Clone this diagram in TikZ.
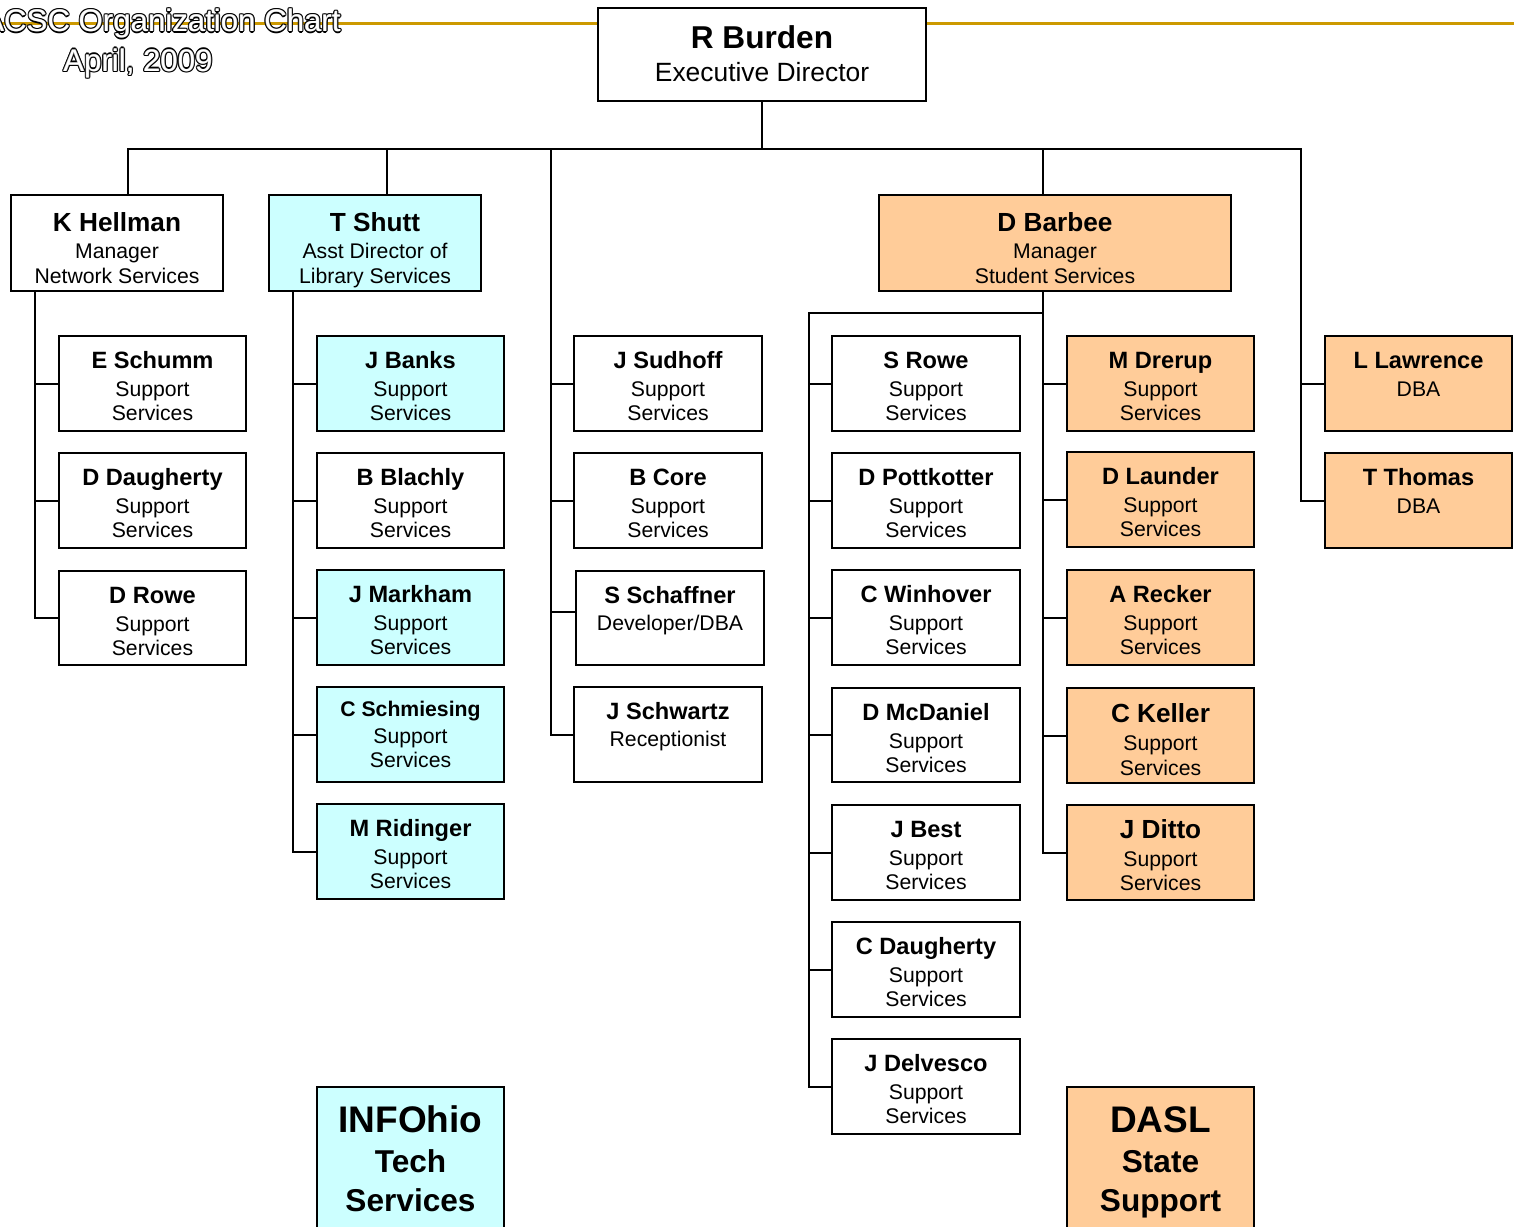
\documentclass[tikz,border=0pt]{standalone}
\usepackage{fontspec}
\setmainfont{Liberation Sans}
\usetikzlibrary{fit,calc}
\definecolor{cy}{HTML}{CCFFFF}
\definecolor{og}{HTML}{FFCC99}
\definecolor{gold}{HTML}{CC9900}
\tikzset{
 box/.style={draw=black,line width=1pt,inner sep=0pt,fill=white},
 cyanbox/.style={box,fill=cy},
 orangebox/.style={box,fill=og},
 wire/.style={line width=1pt,line cap=rect},
 goldline/.style={draw=gold,line width=1.5pt},
 txt/.style={anchor=base,inner sep=0pt},
 nm/.style={txt,font=\fontsize{11.8}{14}\selectfont\bfseries},
 nmbig/.style={txt,font=\fontsize{13.1}{15}\selectfont\bfseries},
 nmsmall/.style={txt,font=\fontsize{10.6}{13}\selectfont\bfseries},
 sub/.style={txt,font=\fontsize{10.6}{13}\selectfont},
 huge1/.style={txt,font=\fontsize{18.5}{22}\selectfont\bfseries},
 huge2/.style={txt,font=\fontsize{15.8}{19}\selectfont\bfseries},
 ttl/.style={txt,font=\fontsize{15.6}{18}\selectfont},
}
\newcommand\obox[6]{\node[#6,fit={(#2,#3)(#4,#5)}] (#1) {};}
\newcommand\tline[5]{\node[#4] (#1-#2) at ($(#1.north)+(0,#3)$) {#5};}
\newcommand\std[9]{\obox{#1}{#2}{#3}{#4}{#5}{#6}\tline{#1}{a}{33}{nm}{#7}\tline{#1}{b}{61}{sub}{#8}\tline{#1}{c}{85}{sub}{#9}}
\newcommand\outl[1]{%
 \makebox[0pt][l]{\kern-.7pt\color{black}#1}%
 \makebox[0pt][l]{\kern.7pt\color{black}#1}%
 \makebox[0pt][l]{\raisebox{.7pt}{\color{black}#1}}%
 \makebox[0pt][l]{\raisebox{-.7pt}{\color{black}#1}}%
 \makebox[0pt][l]{\kern-.5pt\raisebox{.5pt}{\color{black}#1}}%
 \makebox[0pt][l]{\kern.5pt\raisebox{.5pt}{\color{black}#1}}%
 \makebox[0pt][l]{\kern-.5pt\raisebox{-.5pt}{\color{black}#1}}%
 \makebox[0pt][l]{\kern.5pt\raisebox{-.5pt}{\color{black}#1}}%
 \makebox[0pt][l]{\kern-.25pt\color{gray}#1}%
 \makebox[0pt][l]{\kern.25pt\color{gray}#1}%
 {\color{white}#1}}
\begin{document}
\begin{tikzpicture}[x=0.5pt,y=-0.5pt]
\useasboundingbox (0,0) rectangle (1514,1226);
\clip (0,0) rectangle (1514,1226);
\fill[white] (0,0) rectangle (1514,1226);
% top director
\obox{burden}{598}{8}{926}{101}{box}
\tline{burden}{a}{41}{txt,font=\fontsize{15.8}{19}\selectfont\bfseries}{R Burden}
\tline{burden}{b}{74}{txt,font=\fontsize{13.2}{16}\selectfont}{Executive Director}
% gold line
\coordinate (gL) at (0,23);
\coordinate (gR) at (1514,23);
\draw[goldline] (gL) -- (gL -| burden.west);
\draw[goldline] (burden.east |- gR) -- (gR);
% title
\node[ttl] (title1) at (162,32) {\outl{ACSC Organization Chart}};
\node[ttl] (title2) at (138,71) {\outl{April, 2009}};
% managers
\obox{hellman}{11}{195}{223}{291}{box}
\tline{hellman}{a}{37}{nmbig}{K Hellman}
\tline{hellman}{b}{64}{sub}{Manager}
\tline{hellman}{c}{89}{sub}{Network Services}
\obox{shutt}{269}{195}{481}{291}{cyanbox}
\tline{shutt}{a}{37}{nmbig}{T Shutt}
\tline{shutt}{b}{64}{sub}{Asst Director of}
\tline{shutt}{c}{89}{sub}{Library Services}
\obox{barbee}{879}{195}{1231}{291}{orangebox}
\tline{barbee}{a}{37}{nmbig}{D Barbee}
\tline{barbee}{b}{64}{sub}{Manager}
\tline{barbee}{c}{89}{sub}{Student Services}
% Hellman column
\std{eschumm}{59}{336}{246}{431}{box}{E Schumm}{Support}{Services}
\std{ddaugherty}{59}{453}{246}{548}{box}{D Daugherty}{Support}{Services}
\std{drowe}{59}{571}{246}{665}{box}{D Rowe}{Support}{Services}
% Shutt column
\std{jbanks}{317}{336}{504}{431}{cyanbox}{J Banks}{Support}{Services}
\std{bblachly}{317}{453}{504}{548}{box}{B Blachly}{Support}{Services}
\std{jmarkham}{317}{570}{504}{665}{cyanbox}{J Markham}{Support}{Services}
\obox{cschmiesing}{317}{687}{504}{782}{cyanbox}
\tline{cschmiesing}{a}{30}{nmsmall}{C Schmiesing}
\tline{cschmiesing}{b}{57}{sub}{Support}
\tline{cschmiesing}{c}{81}{sub}{Services}
\std{mridinger}{317}{804}{504}{899}{cyanbox}{M Ridinger}{Support}{Services}
% Sudhoff column
\std{jsudhoff}{574}{336}{762}{431}{box}{J Sudhoff}{Support}{Services}
\std{bcore}{574}{453}{762}{548}{box}{B Core}{Support}{Services}
\obox{sschaffner}{576}{571}{764}{665}{box}
\tline{sschaffner}{a}{33}{nm}{S Schaffner}
\tline{sschaffner}{b}{60}{sub}{Developer/DBA}
\obox{jschwartz}{574}{687}{762}{782}{box}
\tline{jschwartz}{a}{33}{nm}{J Schwartz}
\tline{jschwartz}{b}{60}{sub}{Receptionist}
% Barbee left column
\std{srowe}{832}{336}{1020}{431}{box}{S Rowe}{Support}{Services}
\std{dpottkotter}{832}{453}{1020}{548}{box}{D Pottkotter}{Support}{Services}
\std{cwinhover}{832}{570}{1020}{665}{box}{C Winhover}{Support}{Services}
\std{dmcdaniel}{832}{688}{1020}{782}{box}{D McDaniel}{Support}{Services}
\std{jbest}{832}{805}{1020}{900}{box}{J Best}{Support}{Services}
\std{cdaugherty}{832}{922}{1020}{1017}{box}{C Daugherty}{Support}{Services}
\std{jdelvesco}{832}{1039}{1020}{1134}{box}{J Delvesco}{Support}{Services}
% Barbee right column
\std{mdrerup}{1067}{336}{1254}{431}{orangebox}{M Drerup}{Support}{Services}
\std{dlaunder}{1067}{452}{1254}{547}{orangebox}{D Launder}{Support}{Services}
\std{arecker}{1067}{570}{1254}{665}{orangebox}{A Recker}{Support}{Services}
\obox{ckeller}{1067}{688}{1254}{783}{orangebox}
\tline{ckeller}{a}{35}{nmbig}{C Keller}
\tline{ckeller}{b}{63}{sub}{Support}
\tline{ckeller}{c}{88}{sub}{Services}
\obox{jditto}{1067}{805}{1254}{900}{orangebox}
\tline{jditto}{a}{34}{nmbig}{J Ditto}
\tline{jditto}{b}{62}{sub}{Support}
\tline{jditto}{c}{86}{sub}{Services}
% DBA column
\obox{llawrence}{1325}{336}{1512}{431}{orangebox}
\tline{llawrence}{a}{33}{nm}{L Lawrence}
\tline{llawrence}{b}{61}{sub}{DBA}
\obox{tthomas}{1325}{453}{1512}{548}{orangebox}
\tline{tthomas}{a}{33}{nm}{T Thomas}
\tline{tthomas}{b}{61}{sub}{DBA}
% bottom boxes
\obox{infohio}{317}{1087}{504}{1240}{cyanbox}
\tline{infohio}{a}{46}{huge1}{INFOhio}
\tline{infohio}{b}{86}{huge2}{Tech}
\tline{infohio}{c}{125}{huge2}{Services}
\obox{dasl}{1067}{1087}{1254}{1240}{orangebox}
\tline{dasl}{a}{46}{huge1}{DASL}
\tline{dasl}{b}{86}{huge2}{State}
\tline{dasl}{c}{125}{huge2}{Support}
% connectors: top bar
\coordinate (barL) at (128,149);
\coordinate (barR) at (1301,149);
\coordinate (dShutt) at (387,149);
\coordinate (dSud) at (551,149);
\coordinate (dBarbee) at (1043,149);
\draw[wire] (burden.south) -- (burden.south |- barL);
\draw[wire] (barL) -- (barR);
\draw[wire] (barL) -- (barL |- hellman.north);
\draw[wire] (dShutt) -- (dShutt |- shutt.north);
\draw[wire] (dBarbee) -- (dBarbee |- barbee.north);
% Hellman spine
\coordinate (sH) at (35,291);
\draw[wire] (sH) |- (drowe.west);
\draw[wire] (sH |- eschumm.west) -- (eschumm.west);
\draw[wire] (sH |- ddaugherty.west) -- (ddaugherty.west);
% Shutt spine
\coordinate (sS) at (293,291);
\draw[wire] (sS) |- (mridinger.west);
\draw[wire] (sS |- jbanks.west) -- (jbanks.west);
\draw[wire] (sS |- bblachly.west) -- (bblachly.west);
\draw[wire] (sS |- jmarkham.west) -- (jmarkham.west);
\draw[wire] (sS |- cschmiesing.west) -- (cschmiesing.west);
% Sudhoff spine
\draw[wire] (dSud) |- (jschwartz.west);
\draw[wire] (dSud |- jsudhoff.west) -- (jsudhoff.west);
\draw[wire] (dSud |- bcore.west) -- (bcore.west);
\draw[wire] ($(dSud |- sschaffner.west)+(0,-6)$) -- ($(sschaffner.west)+(0,-6)$);
% Barbee spines
\coordinate (sB) at (1043,291);
\coordinate (sBL) at (809,313);
\draw[wire] (sB) |- (jditto.west);
\draw[wire] (sB |- sBL) -- (sBL) |- (jdelvesco.west);
\foreach \n in {srowe,dpottkotter,cwinhover,dmcdaniel,jbest,cdaugherty}
  \draw[wire] (sBL |- \n.west) -- (\n.west);
\foreach \n in {mdrerup,dlaunder,arecker,ckeller}
  \draw[wire] (sB |- \n.west) -- (\n.west);
% DBA spine
\draw[wire] (barR) |- (tthomas.west);
\draw[wire] (barR |- llawrence.west) -- (llawrence.west);
\end{tikzpicture}
\end{document}
